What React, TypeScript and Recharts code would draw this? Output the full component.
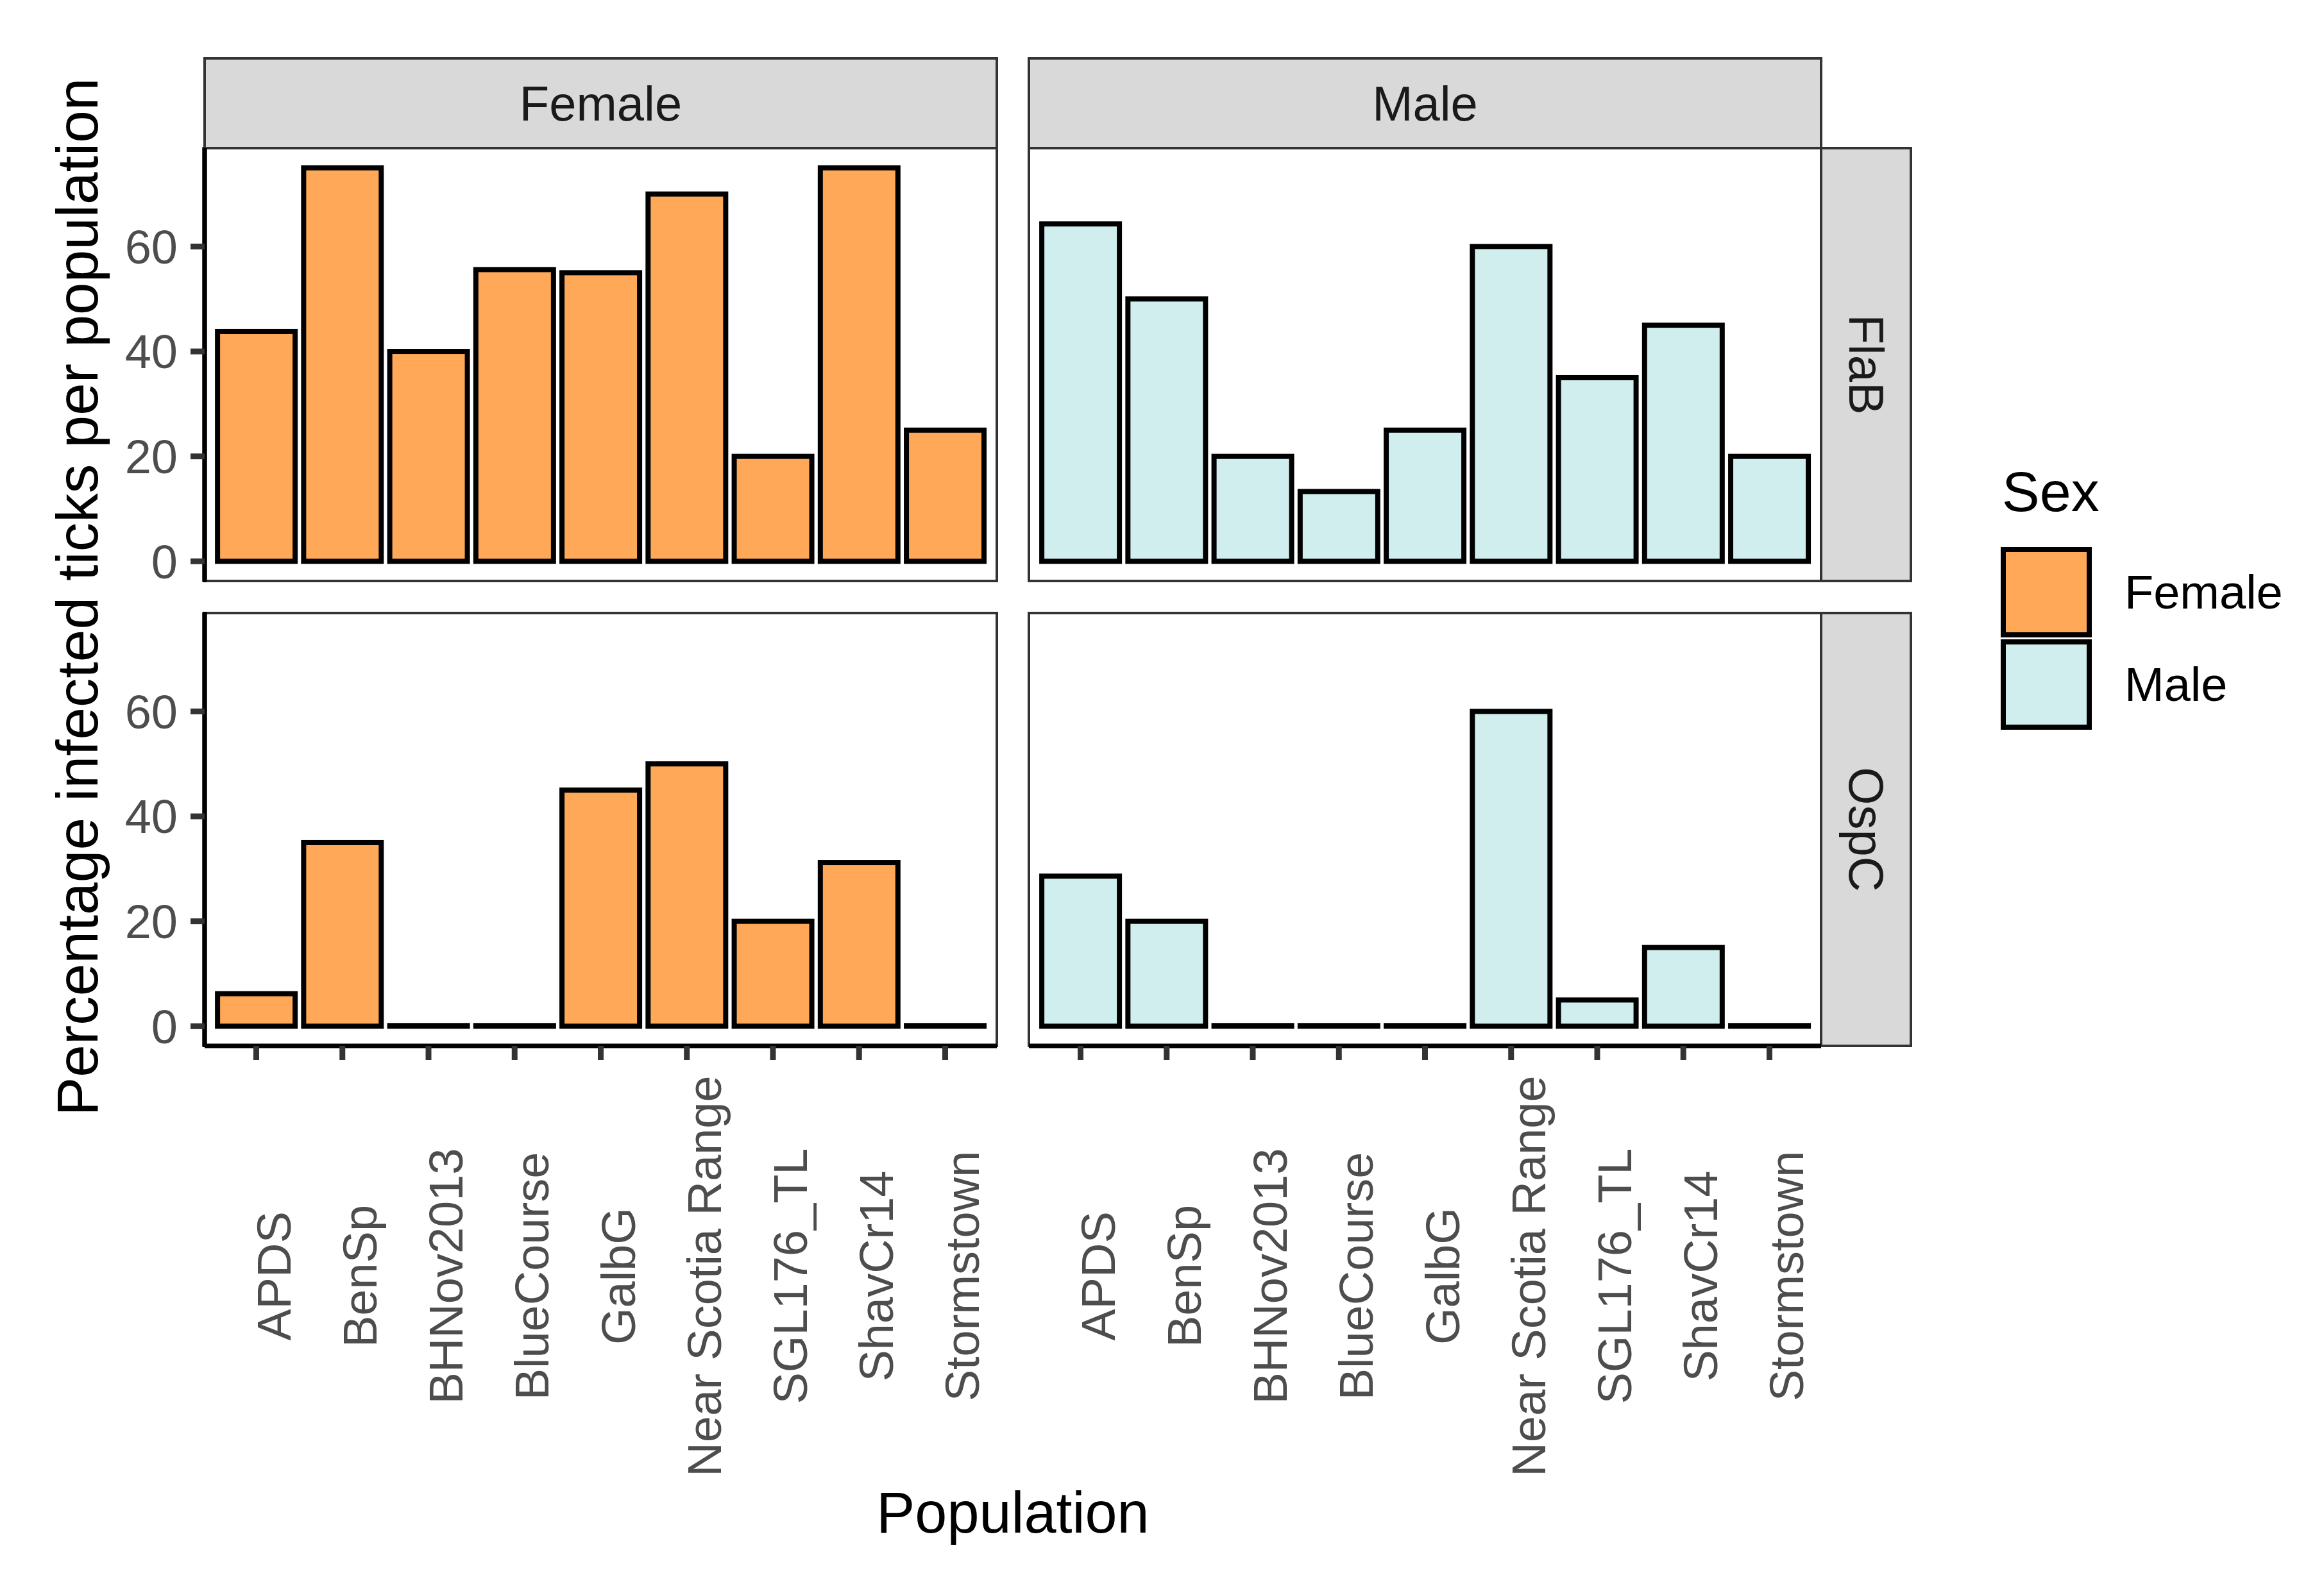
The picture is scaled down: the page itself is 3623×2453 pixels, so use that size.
import { BarChart, Bar, XAxis, YAxis } from 'recharts';

// populations on the x axis (same order in every panel)
const populations = [
  'APDS',
  'BenSp',
  'BHNov2013',
  'BlueCourse',
  'GalbG',
  'Near Scotia Range',
  'SGL176_TL',
  'ShavCr14',
  'Stormstown',
];

const sexes = ['Female', 'Male'];
const genes = ['FlaB', 'OspC'];
const sexColors = ['#FFA858', '#D1EEEE'];

// percentage infected ticks per population
const femaleFlaB = [43.8, 75, 40, 55.6, 55, 70, 20, 75, 25];
const maleFlaB = [64.3, 50, 20, 13.3, 25, 60, 35, 45, 20];
const femaleOspC = [6.2, 35, 0, 0, 45, 50, 20, 31.2, 0];
const maleOspC = [28.6, 20, 0, 0, 0, 60, 5, 15, 0];

const yTicks = [0, 20, 40, 60];
const yDomain: [number, number] = [-3.75, 78.75];

const FONT = '"Liberation Sans", Arial, Helvetica, sans-serif';

// layout (px)
const colX = [319, 1604];
const rowY = [231, 956];
const panelW = 1235;
const panelH = 675;
const stripH = 140;
const stripW = 140;
const yAxisW = 150;
const xAxisH = 720;
const spare = 50; // room below top-row panels so the "0" label is not clipped

const valuesFor = (sex: number, gene: number) => {
  if (sex === 0) return gene === 0 ? femaleFlaB : femaleOspC;
  return gene === 0 ? maleFlaB : maleOspC;
};

// draws zero-height bars too, as a flat outlined rect (like ggplot)
const barShape = (props: any) => {
  const { x, y, width, height, fill } = props;
  const h = Math.abs(height || 0);
  const top = height < 0 ? y + height : y;
  return <rect x={x} y={top} width={width} height={h} fill={fill} stroke="#000" strokeWidth={8} />;
};

const PopTick = (props: any) => {
  const { x, y, payload } = props;
  return (
    <text
      transform={`translate(${x + 53},${y + 337}) rotate(-90)`}
      textAnchor="middle"
      fontSize={74}
      fill="#4D4D4D"
      fontFamily={FONT}
    >
      {payload.value}
    </text>
  );
};

function Panel({ sex, gene }: { sex: number; gene: number }) {
  const showY = sex === 0;
  const showX = gene === 1;
  const values = valuesFor(sex, gene);
  const data = populations.map((p, i) => ({ population: p, value: values[i] }));
  const left = colX[sex] - (showY ? yAxisW : 0);
  const width = panelW + (showY ? yAxisW : 0);
  const height = panelH + (showX ? xAxisH : spare);

  return (
    <div style={{ position: 'absolute', left, top: rowY[gene] }}>
      <BarChart
        width={width}
        height={height}
        data={data}
        margin={{ top: 0, right: 0, bottom: showX ? 0 : spare, left: 0 }}
        barCategoryGap="5%"
      >
        <XAxis
          dataKey="population"
          type="category"
          hide={!showX}
          height={xAxisH}
          padding={{ left: 13.4, right: 13.4 }}
          interval={0}
          tickSize={22}
          tickMargin={0}
          stroke="#000"
          axisLine={{ stroke: '#000', strokeWidth: 7 }}
          tickLine={{ stroke: '#333', strokeWidth: 9 }}
          tick={(p: any) => <PopTick {...p} />}
        />
        <YAxis
          type="number"
          domain={yDomain}
          ticks={yTicks}
          interval={0}
          hide={!showY}
          width={yAxisW}
          tickSize={22}
          tickMargin={20}
          stroke="#000"
          axisLine={{ stroke: '#000', strokeWidth: 7 }}
          tickLine={{ stroke: '#333', strokeWidth: 9 }}
          tick={{ fontSize: 74, fill: '#4D4D4D', fontFamily: FONT }}
        />
        <Bar
          dataKey="value"
          fill={sexColors[sex]}
          stroke="#000"
          strokeWidth={8}
          minPointSize={1}
          shape={barShape}
          isAnimationActive={false}
        />
      </BarChart>
    </div>
  );
}

function Frame() {
  const rightX = colX[1] + panelW;
  return (
    <svg
      width={3623}
      height={2453}
      style={{ position: 'absolute', left: 0, top: 0 }}
      fontFamily={FONT}
    >
      {/* panel backgrounds and borders */}
      {sexes.map((_, s) =>
        genes.map((__, g) => (
          <rect
            key={`p${s}${g}`}
            x={colX[s]}
            y={rowY[g]}
            width={panelW}
            height={panelH}
            fill="#fff"
            stroke="#333"
            strokeWidth={4}
          />
        ))
      )}
      {/* axis lines of the left column */}
      {genes.map((_, g) => (
        <line
          key={`al${g}`}
          x1={colX[0]}
          x2={colX[0]}
          y1={rowY[g] - 2}
          y2={rowY[g] + panelH + 2}
          stroke="#000"
          strokeWidth={7}
        />
      ))}
      {/* column strips */}
      {sexes.map((name, s) => (
        <g key={`cs${s}`}>
          <rect
            x={colX[s]}
            y={rowY[0] - stripH}
            width={panelW}
            height={stripH}
            fill="#D9D9D9"
            stroke="#333"
            strokeWidth={4}
          />
          <text
            x={colX[s] + panelW / 2}
            y={rowY[0] - stripH / 2}
            textAnchor="middle"
            dominantBaseline="central"
            fontSize={76}
            fill="#1A1A1A"
          >
            {name}
          </text>
        </g>
      ))}
      {/* row strips */}
      {genes.map((name, g) => (
        <g key={`rs${g}`}>
          <rect
            x={rightX}
            y={rowY[g]}
            width={stripW}
            height={panelH}
            fill="#D9D9D9"
            stroke="#333"
            strokeWidth={4}
          />
          <text
            transform={`translate(${rightX + stripW / 2},${rowY[g] + panelH / 2}) rotate(90)`}
            textAnchor="middle"
            dominantBaseline="central"
            fontSize={76}
            fill="#1A1A1A"
          >
            {name}
          </text>
        </g>
      ))}
      {/* axis titles */}
      <text
        transform={`translate(152,${(rowY[0] + rowY[1] + panelH) / 2}) rotate(-90)`}
        textAnchor="middle"
        fontSize={91}
        fill="#000"
      >
        Percentage infected ticks per population
      </text>
      <text x={(colX[0] + rightX) / 2} y={2390} textAnchor="middle" fontSize={90} fill="#000">
        Population
      </text>
      {/* legend */}
      <text x={3121} y={797} fontSize={88} fill="#000">
        Sex
      </text>
      {sexes.map((name, s) => (
        <g key={`lg${s}`}>
          <rect
            x={3123}
            y={857 + s * 144}
            width={134}
            height={133}
            fill={sexColors[s]}
            stroke="#000"
            strokeWidth={8}
          />
          <text
            x={3312}
            y={923 + s * 144}
            dominantBaseline="central"
            fontSize={74}
            fill="#000"
          >
            {name}
          </text>
        </g>
      ))}
    </svg>
  );
}

export default function App() {
  return (
    <div
      style={{
        position: 'absolute',
        left: 0,
        top: 0,
        width: 3623,
        height: 2453,
        background: '#fff',
        fontFamily: FONT,
      }}
    >
      <Frame />
      {sexes.map((_, s) =>
        genes.map((__, g) => <Panel key={`${s}-${g}`} sex={s} gene={g} />)
      )}
    </div>
  );
}
